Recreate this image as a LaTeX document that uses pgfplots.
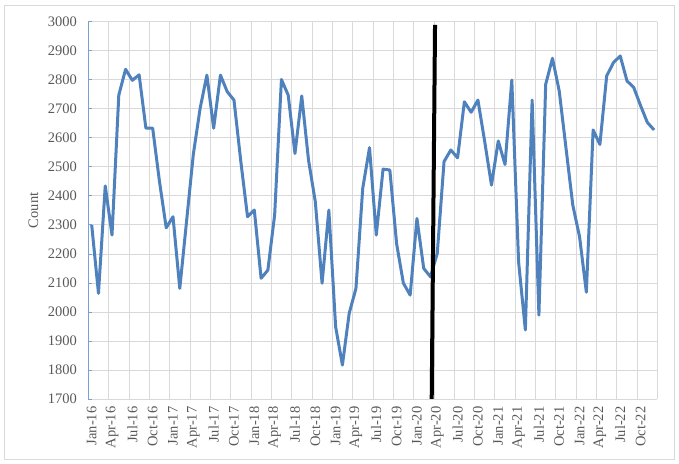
\documentclass[border=0pt]{standalone}
\usepackage{fontspec}
\setmainfont{Liberation Serif}
\usepackage{pgfplots}
\pgfplotsset{compat=1.18}
\definecolor{lineblue}{HTML}{4F81BD}
\definecolor{axblue}{HTML}{7BA0D4}
\definecolor{gridgray}{HTML}{D9D9D9}
\definecolor{txt}{HTML}{595959}
\definecolor{framegray}{HTML}{D9D9D9}
\begin{document}
\begin{tikzpicture}[font=\fontsize{14.5bp}{17bp}\selectfont]
\path (0,0) rectangle (679bp,464bp);
\draw[framegray, line width=0.75bp] (4bp,5bp) rectangle (674bp,459bp);
\begin{axis}[
  at={(88.3bp,65bp)}, anchor=south west,
  scale only axis, width=569.2bp, height=377.3bp,
  xmin=-0.5, xmax=83.5, ymin=1700, ymax=3000,
  ytick={1700,1800,...,3000},
  xtick={0,3,...,81},
  xticklabels={Jan-16,Apr-16,Jul-16,Oct-16,Jan-17,Apr-17,Jul-17,Oct-17,Jan-18,Apr-18,Jul-18,Oct-18,Jan-19,Apr-19,Jul-19,Oct-19,Jan-20,Apr-20,Jul-20,Oct-20,Jan-21,Apr-21,Jul-21,Oct-21,Jan-22,Apr-22,Jul-22,Oct-22},
  minor xtick={-0.5,2.5,...,83.5},
  xminorgrids, ymajorgrids,
  grid style={gridgray, line width=0.75bp},
  minor grid style={gridgray, line width=0.75bp},
  axis x line*=bottom, axis y line*=left,
  x axis line style={draw=none},
  y axis line style={axblue, line width=0.9bp, -},
  xtick style={draw=none},
  minor x tick style={draw=none},
  ytick style={axblue, line width=0.75bp},
  tick align=inside, major tick length=4bp, minor tick length=0pt,
  xticklabel style={rotate=90, anchor=east, color=txt, xshift=-4bp},
  yticklabel style={color=txt, xshift=-8bp},
  /pgf/number format/assume math mode=true,
  /pgf/number format/1000 sep={},
  ylabel={Count},
  every axis y label/.style={at={(axis description cs:-0.0966,0.5)}, rotate=90, anchor=center, color=txt},
]
\addplot[lineblue, line width=3bp, line join=round, mark=none] coordinates {
(0,2300) (1,2064) (2,2434) (3,2265) (4,2747) (5,2836) (6,2798) (7,2817)
(8,2633) (9,2633) (10,2450) (11,2290) (12,2328) (13,2081) (14,2312) (15,2543)
(16,2701) (17,2816) (18,2633) (19,2816) (20,2759) (21,2730) (22,2520) (23,2328)
(24,2351) (25,2116) (26,2144) (27,2334) (28,2801) (29,2747) (30,2546) (31,2744)
(32,2523) (33,2380) (34,2099) (35,2351) (36,1949) (37,1817) (38,1995) (39,2081)
(40,2426) (41,2566) (42,2265) (43,2492) (44,2489) (45,2235) (46,2099) (47,2058)
(48,2322) (49,2150) (50,2121) (51,2202) (52,2518) (53,2558) (54,2531) (55,2724)
(56,2688) (57,2730) (58,2587) (59,2437) (60,2589) (61,2508) (62,2799) (63,2173)
(64,1938) (65,2730) (66,1989) (67,2784) (68,2874) (69,2761) (70,2564) (71,2368)
(72,2259) (73,2068) (74,2627) (75,2577) (76,2813) (77,2859) (78,2882) (79,2796)
(80,2773) (81,2711) (82,2653) (83,2627)
};
\addplot[black, line width=4bp, mark=none] coordinates {(50.18,1700) (50.67,2989)};
\end{axis}
\end{tikzpicture}
\end{document}
